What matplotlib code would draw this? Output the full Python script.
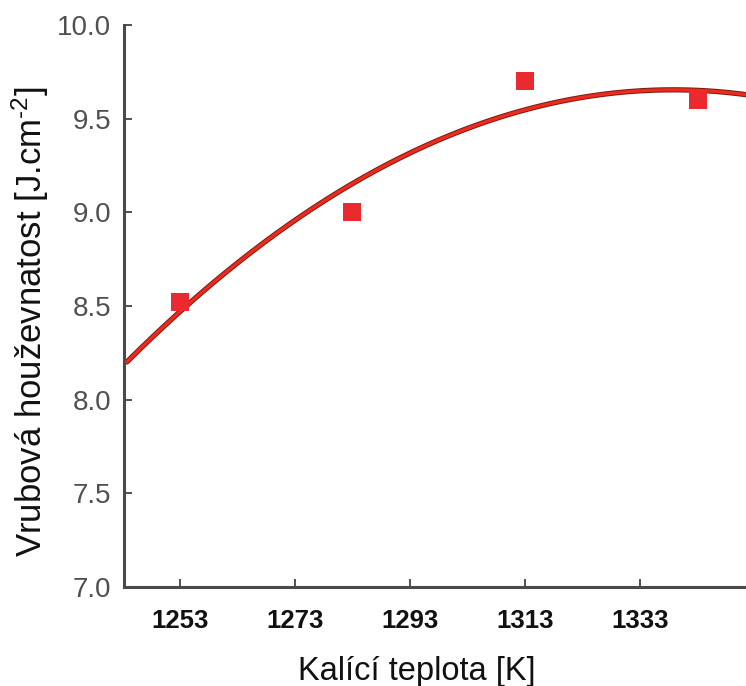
import numpy as np
import matplotlib.pyplot as plt

plt.rcParams["mathtext.fontset"] = "custom"
plt.rcParams["mathtext.rm"] = "Liberation Sans"
plt.rcParams["mathtext.it"] = "Liberation Sans"

# naměřené hodnoty
teplota = [1253, 1283, 1313, 1343]
houzevnatost = [8.52, 9.0, 9.7, 9.6]
xticks = [1253, 1273, 1293, 1313, 1333]
yticks = [7.0, 7.5, 8.0, 8.5, 9.0, 9.5, 10.0]

# kvadratická regrese
koef = np.polyfit(teplota, houzevnatost, 2)
xf = np.linspace(1243.8, 1352, 300)
yf = np.polyval(koef, xf)

fig = plt.figure(figsize=(7.46, 6.86), dpi=100)
ax = fig.add_axes([0.1662, 0.1443, 0.8338, 0.8193])

ax.plot(xf, yf, color="#7a1a10", lw=3.8, solid_capstyle="round", zorder=2)
ax.plot(xf, yf, color="#ec2a1e", lw=2.4, solid_capstyle="round", zorder=3)
ax.plot(teplota, houzevnatost, "s", color="#ea2a2e", markersize=12.5,
        markeredgewidth=0, zorder=4)

ax.set_xlim(1243.3, 1351.4)
ax.set_ylim(7.0, 10.0)
ax.set_xticks(xticks)
ax.set_yticks(yticks)
ax.set_yticklabels([f"{v:.1f}" for v in yticks])

ax.spines["top"].set_visible(False)
ax.spines["right"].set_visible(False)
for s in ("left", "bottom"):
    ax.spines[s].set_color("#4a4a4a")
    ax.spines[s].set_linewidth(2.2)

ax.tick_params(axis="both", direction="in", length=6, width=1.2, color="#333333")
ax.tick_params(axis="y", labelsize=20, labelcolor="#505050", pad=9)
ax.tick_params(axis="x", pad=16)
for lab in ax.get_xticklabels():
    lab.set_family(["Liberation Sans Narrow", "Liberation Sans", "DejaVu Sans"])
    lab.set_fontsize(18.5)
    lab.set_fontweight("bold")
    lab.set_color("#111111")
for lab in ax.get_yticklabels():
    lab.set_family(["Liberation Sans", "DejaVu Sans"])

ax.set_xlabel("Kalící teplota [K]", fontsize=23.5, family=["Liberation Sans", "DejaVu Sans"],
              color="#111111", va="baseline")
ax.xaxis.set_label_coords(0.47, -0.1655)
ax.set_ylabel(r"Vrubová houževnatost [J.cm$^{\text{-}2}$]", fontsize=25,
              family=["Liberation Sans", "DejaVu Sans"], color="#111111", va="baseline")
ax.yaxis.set_label_coords(-0.132, 0.4715)

fig.savefig("out.png", dpi=100)
